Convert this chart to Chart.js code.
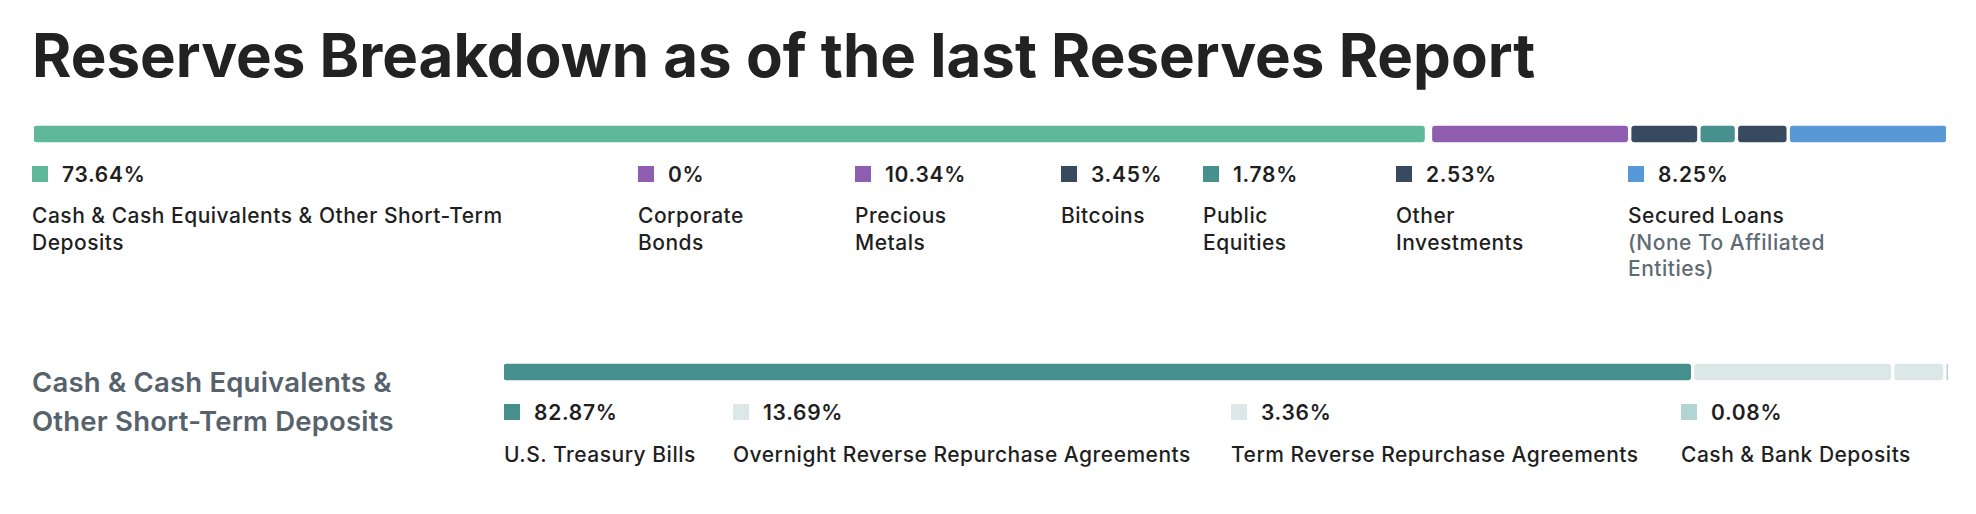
<!DOCTYPE html>
<html>
<head>
<meta charset="utf-8">
<script src="https://cdn.jsdelivr.net/npm/chart.js@4/dist/chart.umd.min.js"></script>
<style>
  html, body { margin: 0; padding: 0; background: #fff; }
  body { width: 1976px; height: 514px; position: relative; overflow: hidden; font-family: Inter, "Noto Sans", sans-serif; color: #1f1f1f; }
  h1 { position: absolute; left: 32px; top: 25px; margin: 0; font-size: 60px; line-height: 60px; font-weight: 700; color: #222; white-space: nowrap; }
  .bar-wrap { position: absolute; }
  #topWrap { left: 34px; top: 122px; width: 1912px; height: 24px; }
  #cashWrap { left: 504px; top: 360px; width: 1444px; height: 24px; }
  .legend { position: absolute; display: grid; }
  #topLegend { left: 32px; top: 166px; grid-template-columns: 606px 217px 206px 142px 193px 232px 320px; }
  #cashLegend { left: 504px; top: 404px; grid-template-columns: 229px 498px 450px 280px; }
  .item .pct { display: flex; align-items: center; height: 16px; font-size: 21px; font-weight: 600; letter-spacing: 0.7px; }
  .item .sq { width: 16px; height: 16px; margin-right: 14px; flex: none; }
  .item .lbl { font-size: 21px; line-height: 26.5px; font-weight: 500; letter-spacing: 0.5px; white-space: nowrap; margin-top: 21px; }
  #cashLegend .item .lbl { margin-top: 22px; }
  .item .sub { color: #5f6b74; }
  h2 { position: absolute; left: 32px; top: 362.5px; margin: 0; font-size: 27.5px; line-height: 39px; font-weight: 600; letter-spacing: 0.2px; color: #56626c; }
</style>
</head>
<body>
<h1>Reserves Breakdown as of the last Reserves Report</h1>
<div class="bar-wrap" id="topWrap"><canvas id="topChart"></canvas></div>
<div class="legend" id="topLegend"></div>
<h2>Cash &amp; Cash Equivalents &amp;<br>Other Short-Term Deposits</h2>
<div class="bar-wrap" id="cashWrap"><canvas id="cashChart"></canvas></div>
<div class="legend" id="cashLegend"></div>
<script>
'use strict'

// reserves breakdown (top bar)
const reserveLabels = [
    ['Cash & Cash Equivalents & Other Short-Term', 'Deposits'],
    ['Corporate', 'Bonds'],
    ['Precious', 'Metals'],
    ['Bitcoins'],
    ['Public', 'Equities'],
    ['Other', 'Investments'],
    ['Secured Loans']
];
const reserveSubLabels = [null, null, null, null, null, null, ['(None To Affiliated', 'Entities)']];
const reserveValues = [73.64, 0, 10.34, 3.45, 1.78, 2.53, 8.25];
const reserveColors = ['#5fb89a', '#8f5eb0', '#8f5eb0', '#384a5f', '#46918d', '#384a5f', '#5898d6'];

// cash & cash equivalents breakdown (bottom bar)
const cashLabels = [
    ['U.S. Treasury Bills'],
    ['Overnight Reverse Repurchase Agreements'],
    ['Term Reverse Repurchase Agreements'],
    ['Cash & Bank Deposits']
];
const cashValues = [82.87, 13.69, 3.36, 0.08];
const cashColors = ['#46918d', '#dbe8e7', '#dbe8e7', '#b3d4d4'];

const GAP = 4; // px between segments

function sum(arr){
    return arr.reduce((a, b) => a + b, 0);
}

function drawBar(canvasId, wrapId, labels, values, colors){
    const wrap = document.getElementById(wrapId);
    const canvas = document.getElementById(canvasId);
    canvas.width = wrap.clientWidth;
    canvas.height = wrap.clientHeight;
    // segments share the width left after the gaps, like a flex row
    const total = sum(values);
    const gapUnits = GAP * total / (canvas.width - GAP * (values.length - 1));
    let start = 0;
    const ranges = values.map(v => {
        const r = v > 0 ? [start, start + v] : null;
        start += v + gapUnits;
        return r;
    });
    return new Chart(canvas, {
        type: 'bar',
        data: {
            labels: ['total'],
            datasets: values.map((v, i) => ({
                label: labels[i].join(' '),
                data: [ranges[i]],
                backgroundColor: colors[i],
                borderWidth: 0,
                borderSkipped: false,
                borderRadius: 3,
                barThickness: 16,
                grouped: false
            }))
        },
        options: {
            indexAxis: 'y',
            responsive: false,
            animation: false,
            layout: {padding: 0},
            plugins: {
                legend: {display: false},
                tooltip: {enabled: false}
            },
            scales: {
                x: {display: false, min: 0, max: start - gapUnits},
                y: {display: false}
            }
        }
    });
}

function drawLegend(containerId, labels, values, colors, subLabels){
    const container = document.getElementById(containerId);
    values.forEach((v, i) => {
        const element = document.createElement('div');
        element.classList.add('item');
        let lines = labels[i].join('<br>');
        if(subLabels && subLabels[i]){
            lines += `<br><span class="sub">${subLabels[i].join('<br>')}</span>`;
        }
        element.innerHTML = `
            <div class="pct"><span class="sq" style="background:${colors[i]}"></span>${v}%</div>
            <div class="lbl">${lines}</div>
        `;
        container.append(element);
    });
}

drawBar('topChart', 'topWrap', reserveLabels, reserveValues, reserveColors);
drawBar('cashChart', 'cashWrap', cashLabels, cashValues, cashColors);
drawLegend('topLegend', reserveLabels, reserveValues, reserveColors, reserveSubLabels);
drawLegend('cashLegend', cashLabels, cashValues, cashColors);
</script>
</body>
</html>
